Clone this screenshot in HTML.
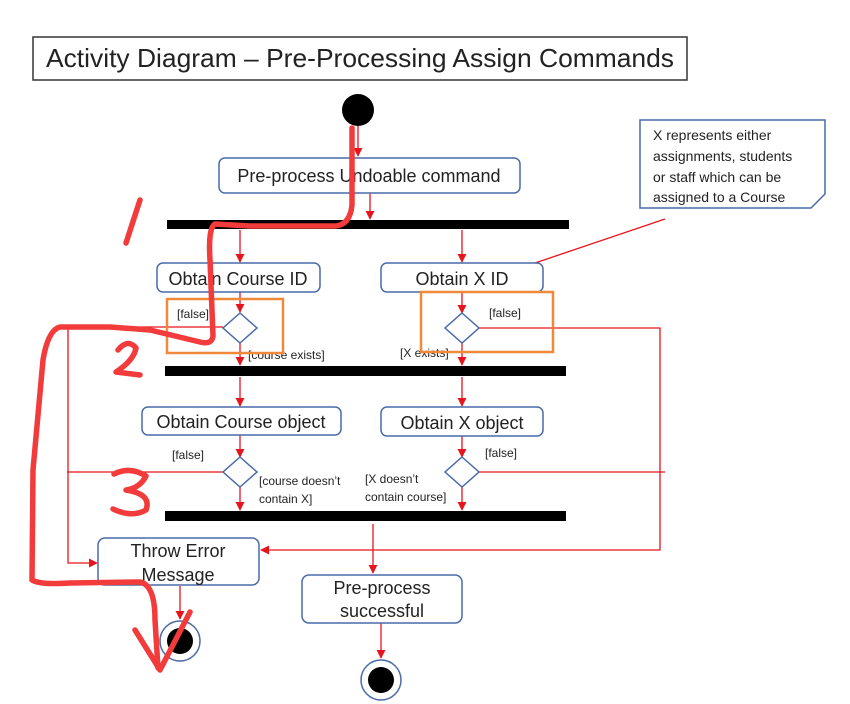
<!DOCTYPE html>
<html><head><meta charset="utf-8"><style>
html,body{margin:0;padding:0;background:#fff;}
svg{display:block;}
text{font-family:"Liberation Sans",sans-serif;fill:#222;}
</style></head><body>
<svg width="850" height="704" viewBox="0 0 850 704" xmlns="http://www.w3.org/2000/svg">
<defs>
<marker id="a" viewBox="0 0 10 10" refX="9" refY="5" markerWidth="7" markerHeight="7" orient="auto"><path d="M0,0 L10,5 L0,10 z" fill="#e8141c"/></marker>
</defs>
<rect x="33" y="37" width="654" height="43" fill="#fff" stroke="#333" stroke-width="1.5"/>
<text x="360" y="67" font-size="26" text-anchor="middle" textLength="628" lengthAdjust="spacingAndGlyphs">Activity Diagram – Pre-Processing Assign Commands</text>
<circle cx="358" cy="110" r="16" fill="#000"/>
<g stroke="#e8141c" stroke-width="1.3" fill="none">
<line x1="358" y1="126" x2="358" y2="156" marker-end="url(#a)"/>
<line x1="370" y1="193" x2="370" y2="219" marker-end="url(#a)"/>
<line x1="240" y1="230" x2="240" y2="262" marker-end="url(#a)"/>
<line x1="462" y1="230" x2="462" y2="262" marker-end="url(#a)"/>
<line x1="240" y1="292" x2="240" y2="312" marker-end="url(#a)"/>
<line x1="462" y1="292" x2="462" y2="313" marker-end="url(#a)"/>
<line x1="240" y1="342" x2="240" y2="365" marker-end="url(#a)"/>
<line x1="462" y1="343" x2="462" y2="365" marker-end="url(#a)"/>
<line x1="240" y1="377" x2="240" y2="406" marker-end="url(#a)"/>
<line x1="462" y1="377" x2="462" y2="406" marker-end="url(#a)"/>
<line x1="240" y1="435" x2="240" y2="457" marker-end="url(#a)"/>
<line x1="462" y1="436" x2="462" y2="457" marker-end="url(#a)"/>
<line x1="240" y1="487" x2="240" y2="510" marker-end="url(#a)"/>
<line x1="462" y1="487" x2="462" y2="510" marker-end="url(#a)"/>
<line x1="373" y1="524" x2="373" y2="573" marker-end="url(#a)"/>
<line x1="180" y1="586" x2="180" y2="619" marker-end="url(#a)"/>
<line x1="381" y1="623" x2="381" y2="658" marker-end="url(#a)"/>
<polyline points="223,327 68,327 68,563 97,563" marker-end="url(#a)"/>
<line x1="67" y1="472" x2="223" y2="472"/>
<polyline points="479,328 660,328 660,550 261,550" marker-end="url(#a)"/>
<line x1="479" y1="472" x2="665" y2="472"/>
<line x1="665" y1="219" x2="535" y2="263"/>
</g>
<rect x="167" y="220" width="402" height="9" fill="#000"/>
<rect x="165" y="366" width="401" height="10" fill="#000"/>
<rect x="165" y="511" width="401" height="10" fill="#000"/>
<g fill="#fff" stroke="#4a6aa8" stroke-width="1.5">
<rect x="219" y="158" width="301" height="35" rx="6"/>
<rect x="157" y="263" width="163" height="29" rx="6"/>
<rect x="381" y="263" width="162" height="29" rx="6"/>
<rect x="142" y="407" width="199" height="28" rx="6"/>
<rect x="381" y="407" width="162" height="29" rx="6"/>
<rect x="98" y="538" width="161" height="47" rx="7"/>
<rect x="302" y="575" width="160" height="48" rx="7"/>
<polygon points="240,313 257,328 240,343 223,328"/>
<polygon points="462,313 479,328 462,343 445,328"/>
<polygon points="240,457 257,472 240,487 223,472"/>
<polygon points="462,457 479,472 462,487 445,472"/>
<polygon points="640,120 825,120 825,194 811,208 640,208"/>
<circle cx="180" cy="641" r="20"/>
<circle cx="381" cy="680" r="20"/>
</g>
<circle cx="180" cy="641" r="13" fill="#000"/>
<circle cx="381" cy="680" r="13" fill="#000"/>
<g font-size="18" text-anchor="middle">
<text x="369" y="182">Pre-process Undoable command</text>
<text x="238" y="285">Obtain Course ID</text>
<text x="462" y="285">Obtain X ID</text>
<text x="241" y="428">Obtain Course object</text>
<text x="462" y="429">Obtain X object</text>
<text x="178" y="557">Throw Error</text>
<text x="178" y="581">Message</text>
<text x="382" y="594">Pre-process</text>
<text x="382" y="617">successful</text>
</g>
<g font-size="12">
<text x="177" y="318">[false]</text>
<text x="248" y="359">[course exists]</text>
<text x="400" y="357">[X exists]</text>
<text x="489" y="317">[false]</text>
<text x="172" y="459">[false]</text>
<text x="259" y="485">[course doesn’t</text>
<text x="259" y="503">contain X]</text>
<text x="365" y="483">[X doesn’t</text>
<text x="365" y="501">contain course]</text>
<text x="485" y="457">[false]</text>
</g>
<g font-size="14">
<text x="653" y="140">X represents either</text>
<text x="653" y="161">assignments, students</text>
<text x="653" y="182">or staff which can be</text>
<text x="653" y="202">assigned to a Course</text>
</g>
<rect x="167" y="299" width="116" height="54" fill="none" stroke="#f08a3a" stroke-width="2.5"/>
<rect x="421" y="292" width="132" height="60" fill="none" stroke="#f08a3a" stroke-width="2.5"/>
<g stroke="#f23b3b" stroke-width="5.5" fill="none" stroke-linecap="round" stroke-linejoin="round">
<path d="M352,128 L352,205 Q350,225 335,226 L250,226 L215,224 Q208,228 210,260 L213,336 Q212,345 200,342 L150,330 L110,327 L60,327 Q48,330 43,360 L33,470 L32,580 Q40,585 70,583 L140,582 Q155,585 155,620 L158,668"/>
<path d="M135,630 L160,670 L190,612"/>
<path d="M140,200 L126,243"/>
<path d="M118,350 Q128,338 136,348 Q134,360 116,372 L140,375"/>
<path d="M114,474 Q130,466 146,476 Q140,488 126,490 Q152,494 146,510 Q132,518 113,509"/>
</g>
</svg>
</body></html>
